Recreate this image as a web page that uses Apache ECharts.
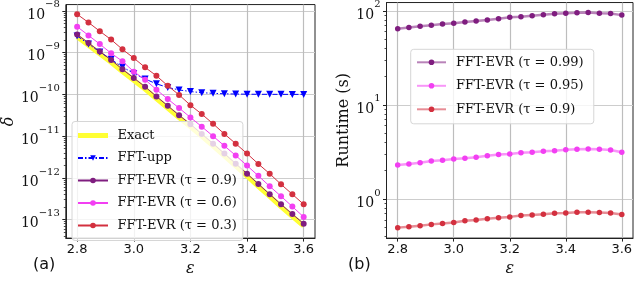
<!DOCTYPE html>
<html><head><meta charset="utf-8">
<script src="https://cdn.jsdelivr.net/npm/echarts@6/dist/echarts.min.js"></script>
<style>html,body{margin:0;padding:0;background:#fff}#c{width:636px;height:282px}</style>
</head><body><div id="c"></div>
<script>
const epsilon = [2.8, 2.84, 2.88, 2.92, 2.96, 3.0, 3.04, 3.08, 3.12, 3.16, 3.2, 3.24, 3.28, 3.32, 3.36, 3.4, 3.44, 3.48, 3.52, 3.56, 3.6];

// panel (a): delta
const exact = [2.41e-9, 1.51e-9, 9.4e-10, 5.9e-10, 3.53e-10, 2.18e-10, 1.34e-10, 7.9e-11, 4.7e-11, 2.8e-11, 1.7e-11, 1.0e-11, 5.85e-12, 3.38e-12, 1.94e-12, 1.11e-12, 6.3e-13, 3.59e-13, 2.06e-13, 1.2e-13, 7.07e-14];
const fftUpp = [2.51e-9, 1.61e-9, 1.04e-9, 6.9e-10, 4.53e-10, 3.18e-10, 2.34e-10, 1.79e-10, 1.47e-10, 1.28e-10, 1.17e-10, 1.10e-10, 1.06e-10, 1.034e-10, 1.02e-10, 1.011e-10, 1.006e-10, 1.004e-10, 1.002e-10, 1.001e-10, 1.001e-10];
const evr09 = [2.73e-9, 1.71e-9, 1.06e-9, 6.67e-10, 3.99e-10, 2.47e-10, 1.52e-10, 8.93e-11, 5.32e-11, 3.17e-11, 1.93e-11, 1.13e-11, 6.62e-12, 3.82e-12, 2.19e-12, 1.26e-12, 7.14e-13, 4.06e-13, 2.33e-13, 1.36e-13, 8.0e-14];
const evr06 = [4.19e-9, 2.59e-9, 1.60e-9, 9.68e-10, 6.22e-10, 3.51e-10, 2.25e-10, 1.30e-10, 7.74e-11, 4.71e-11, 2.81e-11, 1.69e-11, 1.0e-11, 5.86e-12, 3.44e-12, 1.97e-12, 1.12e-12, 6.31e-13, 3.64e-13, 2.06e-13, 1.16e-13];
const evr03 = [8.3e-9, 5.27e-9, 3.26e-9, 2.05e-9, 1.20e-9, 7.41e-10, 4.44e-10, 2.79e-10, 1.61e-10, 9.73e-11, 5.52e-11, 3.38e-11, 1.98e-11, 1.13e-11, 6.62e-12, 3.82e-12, 2.16e-12, 1.26e-12, 7.03e-13, 4.06e-13, 2.33e-13];

// panel (b): runtime (s)
const rt099 = [64.4, 66.6, 68.7, 70.3, 72.6, 73.8, 76.2, 77.9, 79.9, 82.6, 85.3, 86.6, 88.7, 90.8, 93.0, 94.6, 95.3, 96.1, 94.6, 93.8, 90.1];
const rt095 = [2.30, 2.35, 2.43, 2.53, 2.57, 2.65, 2.70, 2.78, 2.87, 2.97, 3.01, 3.09, 3.14, 3.21, 3.26, 3.34, 3.37, 3.40, 3.37, 3.32, 3.14];
const rt090 = [0.495, 0.507, 0.519, 0.536, 0.549, 0.562, 0.585, 0.595, 0.614, 0.629, 0.644, 0.665, 0.676, 0.687, 0.703, 0.709, 0.720, 0.720, 0.715, 0.709, 0.681];

// tick labels
const xTicks = [2.8, 3.0, 3.2, 3.4, 3.6];
const leftYTicks = [1e-13, 1e-12, 1e-11, 1e-10, 1e-9, 1e-8];
const rightYTicks = [1, 10, 100];

const namesA = ['Exact', 'FFT-upp', 'FFT-EVR (τ = 0.9)', 'FFT-EVR (τ = 0.6)', 'FFT-EVR (τ = 0.3)'];
const namesB = ['FFT-EVR (τ = 0.99)', 'FFT-EVR (τ = 0.95)', 'FFT-EVR (τ = 0.9)'];

const SERIF = 'DejaVu Serif';
const SANS = 'DejaVu Sans';
const C_PURPLE = '#7f1d7f', C_MAG = '#f23ff2', C_RED = '#d3303f', C_BLUE = '#0000ff', C_YEL = '#ffff33';

const L_MIN = 3.62e-14, L_MAX = 1.416e-8;
const R_MIN = 0.383, R_MAX = 122.6;

function minorTicks(lo, hi) {
  const out = [];
  for (let e = Math.floor(Math.log10(lo)); e <= Math.ceil(Math.log10(hi)); e++) {
    for (let m = 2; m <= 9; m++) { const v = m * Math.pow(10, e); if (v > lo && v < hi) out.push(v); }
  }
  return out;
}
function pow10Label(v) {
  const e = Math.round(Math.log10(v));
  return '{b|10}{s|' + (e < 0 ? '\u2212' + (-e) : String(e)) + '}';
}
const powRich = {
  b: { fontFamily: SERIF, fontSize: 14, color: '#111', lineHeight: 22, verticalAlign: 'bottom' },
  s: { fontFamily: SERIF, fontSize: 10, color: '#111', lineHeight: 10, verticalAlign: 'top' }
};
const pair = arr => epsilon.map((x, i) => [x, arr[i]]);

function xAxisFor(gi) {
  return {
    type: 'value', gridIndex: gi, min: 2.76, max: 3.64,
    name: 'ε', nameLocation: 'middle', nameGap: 14,
    nameTextStyle: { fontFamily: SERIF, fontStyle: 'italic', fontSize: 16, color: '#111' },
    axisLine: { show: true, onZero: false, lineStyle: { color: '#222', width: 1 } },
    axisTick: { show: true, customValues: xTicks, length: 3.5, lineStyle: { color: '#222' } },
    axisLabel: { customValues: xTicks, formatter: v => v.toFixed(1), fontFamily: SANS, fontSize: 13, color: '#111', margin: 5 },
    splitLine: { show: true, customValues: xTicks, lineStyle: { color: '#bdbdbd', width: 1.2 } }
  };
}
function yAxisMain(gi, min, max, ticks, name, gap, nameStyle) {
  return {
    type: 'log', logBase: 10, gridIndex: gi, min: min, max: max,
    name: name, nameLocation: 'middle', nameGap: gap, nameRotate: 90,
    nameTextStyle: nameStyle,
    axisLine: { show: true, lineStyle: { color: '#222', width: 1 } },
    axisTick: { show: true, customValues: ticks, length: 3.5, lineStyle: { color: '#222' } },
    axisLabel: { customValues: ticks, formatter: pow10Label, rich: powRich, margin: 6 },
    splitLine: { show: true, customValues: ticks, lineStyle: { color: '#cdcdcd', width: 1 } }
  };
}
function yAxisMinor(gi, min, max) {
  return {
    type: 'log', logBase: 10, gridIndex: gi, min: min, max: max, position: 'left', offset: 0,
    axisLine: { show: false },
    axisTick: { show: true, customValues: minorTicks(min, max), length: 2, lineStyle: { color: '#222', width: 0.8 } },
    axisLabel: { show: false },
    splitLine: { show: false }
  };
}

const dotLine = (name, data, color, xi, yi, opts) => Object.assign({
  name: name, type: 'line', xAxisIndex: xi, yAxisIndex: yi, data: pair(data),
  symbol: 'circle', symbolSize: 6, showSymbol: true,
  lineStyle: { color: color, width: 1 }, itemStyle: { color: color }
}, opts || {});

const chart = echarts.init(document.getElementById('c'), null, { renderer: 'canvas' });
chart.setOption({
  animation: false,
  backgroundColor: '#fff',
  grid: [
    { left: 65.5, top: 1.5, width: 249.5, height: 241, show: true, borderColor: '#222', borderWidth: 1, backgroundColor: 'transparent' },
    { left: 386.5, top: 1.5, width: 246.5, height: 240.5, show: true, borderColor: '#222', borderWidth: 1, backgroundColor: 'transparent' }
  ],
  xAxis: [xAxisFor(0), xAxisFor(1)],
  yAxis: [
    yAxisMain(0, L_MIN, L_MAX, leftYTicks, 'δ', 47, { fontFamily: SERIF, fontStyle: 'italic', fontSize: 16, color: '#111' }),
    yAxisMinor(0, L_MIN, L_MAX),
    yAxisMain(1, R_MIN, R_MAX, rightYTicks, 'Runtime (s)', 35, { fontFamily: SERIF, fontSize: 16, color: '#111' }),
    yAxisMinor(1, R_MIN, R_MAX)
  ],
  legend: [
    {
      orient: 'vertical', left: 72, top: 121.5, itemWidth: 30, itemHeight: 7, itemGap: 6.5,
      padding: [6, 6, 7, 5], backgroundColor: 'rgba(255,255,255,0.8)', borderColor: '#d6d6d6', borderWidth: 1, borderRadius: 3,
      textStyle: { fontFamily: SERIF, fontSize: 13, color: '#111', lineHeight: 16, padding: [0, 0, 0, 4.5] },
      data: [
        { name: namesA[0], icon: 'path://M0,0H30V5H0Z', itemStyle: { color: C_YEL } },
        namesA[1], namesA[2], namesA[3], namesA[4]
      ]
    },
    {
      orient: 'vertical', left: 410.7, top: 49.3, itemWidth: 29, itemHeight: 7, itemGap: 7.5,
      padding: [5, 6, 6.5, 5.3], backgroundColor: 'rgba(255,255,255,0.8)', borderColor: '#d6d6d6', borderWidth: 1, borderRadius: 3,
      textStyle: { fontFamily: SERIF, fontSize: 13, color: '#111', lineHeight: 16, padding: [0, 0, 0, 5] },
      data: namesB.map(n => n + ' ')
    }
  ],
  graphic: [
    { type: 'text', left: 33, top: 257, style: { text: '(a)', fontFamily: SANS, fontSize: 16, fill: '#111' } },
    { type: 'text', left: 348, top: 257, style: { text: '(b)', fontFamily: SANS, fontSize: 16, fill: '#111' } }
  ],
  series: [
    { name: namesA[0], type: 'line', xAxisIndex: 0, yAxisIndex: 0, data: pair(exact), symbol: 'none', lineStyle: { color: C_YEL, width: 5 }, itemStyle: { color: C_YEL }, z: 1 },
    dotLine(namesA[1], fftUpp, C_BLUE, 0, 0, { symbol: 'triangle', symbolRotate: 180, symbolSize: 7, lineStyle: { color: C_BLUE, width: 1, type: [5, 2, 1.5, 2] }, z: 2 }),
    dotLine(namesA[2], evr09, C_PURPLE, 0, 0, { z: 3 }),
    dotLine(namesA[3], evr06, C_MAG, 0, 0, { z: 4 }),
    dotLine(namesA[4], evr03, C_RED, 0, 0, { z: 5 }),
    dotLine(namesB[0] + ' ', rt099, C_PURPLE, 1, 2, { symbolSize: 5.5, lineStyle: { color: C_PURPLE, width: 2.5, opacity: 0.55 } }),
    dotLine(namesB[1] + ' ', rt095, C_MAG, 1, 2, { symbolSize: 5.5, lineStyle: { color: C_MAG, width: 2.5, opacity: 0.55 } }),
    dotLine(namesB[2] + ' ', rt090, C_RED, 1, 2, { symbolSize: 5.5, lineStyle: { color: C_RED, width: 2.5, opacity: 0.55 } })
  ]
});
</script></body></html>
